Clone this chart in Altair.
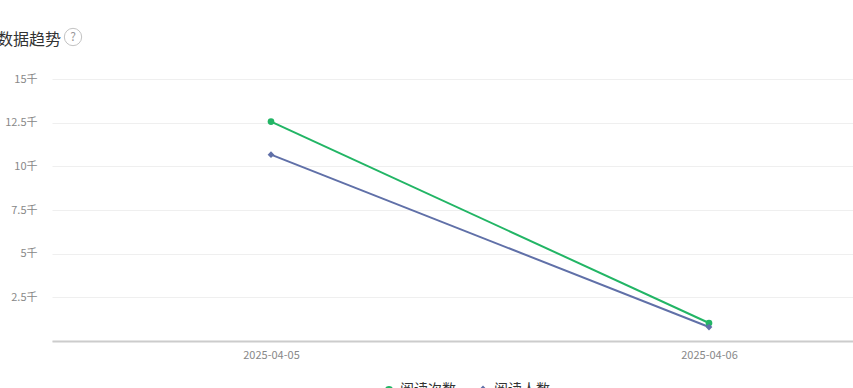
import altair as alt
import pandas as pd

dates = ["2025-04-05", "2025-04-06"]
series_names = ["阅读次数", "阅读人数"]
reads = [12560, 1030]      # 阅读次数
readers = [10670, 800]     # 阅读人数
y_ticks = [0, 2500, 5000, 7500, 10000, 12500, 15000]
title_text = "数据趋势"

rows = []
for d, a, b in zip(dates, reads, readers):
    rows.append({"date": d, "series": series_names[0], "value": a})
    rows.append({"date": d, "series": series_names[1], "value": b})
df = pd.DataFrame(rows)

FONT = "Noto Sans CJK SC"
colors = ["#22b565", "#6070a8"]
shapes = ["circle", "diamond"]

x = alt.X("date:O", title=None,
          scale=alt.Scale(type="point", padding=0.4144, align=0.6033),
          axis=alt.Axis(labelAngle=0, labelColor="#888", labelFontSize=11, labelFont=FONT,
                        ticks=False, labelPadding=8, domainColor="#cccccc", domainWidth=2,
                        grid=False))
y = alt.Y("value:Q", title=None,
          scale=alt.Scale(domain=[0, 15000], nice=False),
          axis=alt.Axis(values=y_ticks, labelExpr="datum.value == 0 ? '' : (datum.value/1000) + '千'",
                        labelColor="#888", labelFontSize=11, labelFont=FONT, ticks=False,
                        labelPadding=15, domain=False, gridColor="#efefef", gridWidth=1))
color = alt.Color("series:N", scale=alt.Scale(domain=series_names, range=colors),
                  legend=alt.Legend(title=None, orient="none", legendX=330, legendY=304,
                                    direction="horizontal", labelFont=FONT, labelFontSize=14,
                                    labelColor="#333", symbolSize=40, columnPadding=20))
shape = alt.Shape("series:N", scale=alt.Scale(domain=series_names, range=shapes))

base = alt.Chart(df)
lines = base.mark_line(strokeWidth=2).encode(x=x, y=y, color=color)
pts = base.mark_point(filled=True, opacity=1).encode(
    x=x, y=y, color=color, shape=shape,
    size=alt.Size("series:N", scale=alt.Scale(domain=series_names, range=[45, 45]), legend=None))

tdf = pd.DataFrame({"t": [title_text]})
title = alt.Chart(tdf).mark_text(align="left", baseline="alphabetic", fontSize=16,
                                 font=FONT, color="#333").encode(
    text="t:N", x=alt.value(-55), y=alt.value(-34))
icon = alt.Chart(tdf).mark_point(shape="circle", filled=False, size=300, color="#aaa",
                                 strokeWidth=1).encode(x=alt.value(21), y=alt.value(-42))
qmark = alt.Chart(tdf).mark_text(text="?", fontSize=12, color="#999", font=FONT,
                                 baseline="middle", align="center").encode(
    x=alt.value(21), y=alt.value(-42))

chart = alt.layer(lines, pts, title, icon, qmark).resolve_scale(
    color="shared").properties(
    width=801, height=262,
    autosize=alt.AutoSizeParams(type="none"),
    padding={"left": 52, "top": 79, "right": 0, "bottom": 47},
).configure_view(stroke=None)

chart.save("out.html", embed_options={"renderer": "svg", "actions": False})
